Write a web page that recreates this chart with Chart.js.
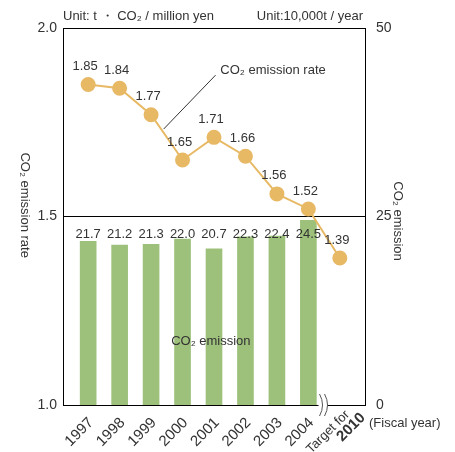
<!DOCTYPE html>
<html>
<head>
<meta charset="utf-8">
<script src="https://cdn.jsdelivr.net/npm/chart.js@4/dist/chart.umd.min.js"></script>
<style>
  html, body { margin: 0; padding: 0; background: #fff; }
  #wrap { width: 455px; height: 452px; }
</style>
</head>
<body>
<div id="wrap"><canvas id="myChart" width="455" height="452"></canvas></div>
<script>
const years = ['1997', '1998', '1999', '2000', '2001', '2002', '2003', '2004']
const targetLabel = ['Target for', '2010']
const emission = [21.7, 21.2, 21.3, 22.0, 20.7, 22.3, 22.4, 24.5]
const rate = [1.85, 1.84, 1.77, 1.65, 1.71, 1.66, 1.56, 1.52, 1.39]
const rateTicks = [1.0, 1.5, 2.0]
const emissionTicks = [0, 25, 50]

const textColor = '#333'
const font = '"Liberation Sans", Arial, sans-serif'

let extras = {
  id: 'extras',
  afterDatasetsDraw(chart) {
    let ctx = chart.ctx
    let x = chart.scales.x
    let y = chart.scales.y
    let y2 = chart.scales.y2
    let area = chart.chartArea
    ctx.save()
    ctx.fillStyle = textColor
    ctx.font = `13px ${font}`
    ctx.textAlign = 'center'
    ctx.textBaseline = 'middle'

    // rate labels above the points
    rate.forEach((v, i) => {
      ctx.fillText(v.toFixed(2), x.getPixelForValue(i) - 3, y.getPixelForValue(v) - 18)
    })
    // emission labels in one row
    emission.forEach((v, i) => {
      ctx.fillText(v.toFixed(1), x.getPixelForValue(i), y2.getPixelForValue(22.6))
    })

    ctx.fillText('CO₂ emission', x.getPixelForValue(3.9), y2.getPixelForValue(8.4))

    ctx.textAlign = 'left'
    ctx.fillText('CO₂ emission rate', x.getPixelForValue(4.2), y.getPixelForValue(1.887))
    ctx.strokeStyle = textColor
    ctx.lineWidth = 1
    ctx.beginPath()
    ctx.moveTo(x.getPixelForValue(4.05), y.getPixelForValue(1.875))
    ctx.lineTo(x.getPixelForValue(2.4), y.getPixelForValue(1.732))
    ctx.stroke()

    // units
    ctx.textBaseline = 'alphabetic'
    ctx.fillText('Unit: t ・ CO₂ / million yen', area.left, area.top - 8)
    ctx.textAlign = 'right'
    ctx.fillText('Unit:10,000t / year', area.right - 2, area.top - 8)
    ctx.textAlign = 'left'
    ctx.fillText('(Fiscal year)', area.right + 4, area.bottom + 22)

    // axis titles, both reading top to bottom
    ctx.textAlign = 'center'
    ctx.textBaseline = 'middle'
    ctx.save()
    ctx.translate(25, y.getPixelForValue(1.53))
    ctx.rotate(Math.PI / 2)
    ctx.fillText('CO₂ emission rate', 0, 0)
    ctx.restore()
    ctx.save()
    ctx.translate(398, y2.getPixelForValue(24.4))
    ctx.rotate(Math.PI / 2)
    ctx.fillText('CO₂ emission', 0, 0)
    ctx.restore()

    // target label
    let tx = x.getPixelForValue(8)
    ctx.save()
    ctx.translate(tx + 3, area.bottom + 3)
    ctx.rotate(-Math.PI / 4)
    ctx.textAlign = 'right'
    ctx.textBaseline = 'top'
    ctx.font = `13px ${font}`
    ctx.fillText(targetLabel[0], 0, 0)
    ctx.font = `bold 15px ${font}`
    ctx.fillText(targetLabel[1], 9, 12)
    ctx.restore()

    // axis break
    let bx = x.getPixelForValue(7.45)
    ctx.fillStyle = '#fff'
    ctx.fillRect(bx - 4, area.bottom - 2, 9, 4)
    ctx.strokeStyle = '#555'
    ctx.lineWidth = 1
    ;[bx - 3, bx + 2].forEach(cx => {
      ctx.beginPath()
      ctx.moveTo(cx, area.bottom - 11)
      ctx.quadraticCurveTo(cx + 6, area.bottom, cx, area.bottom + 11)
      ctx.stroke()
    })
    ctx.restore()
  }
}

let ctx = document.querySelector('#myChart').getContext('2d')
let myChart = new Chart(ctx, {
  type: 'bar',
  data: {
    datasets: [{
      type: 'line',
      data: rate.map((v, i) => ({x: i, y: v})),
      yAxisID: 'y',
      borderColor: '#e8b965',
      backgroundColor: '#e8b965',
      borderWidth: 2,
      pointRadius: 6.5,
      pointHoverRadius: 6.5,
      order: 0
    }, {
      type: 'bar',
      data: emission.map((v, i) => ({x: i, y: v})),
      yAxisID: 'y2',
      backgroundColor: '#9dc17b',
      barThickness: 16,
      order: 1
    }]
  },
  options: {
    responsive: false,
    animation: false,
    layout: {padding: {top: 28, left: 0, right: 0, bottom: 0}},
    plugins: {
      legend: {display: false},
      tooltip: {enabled: false}
    },
    scales: {
      x: {
        type: 'linear',
        offset: false,
        min: -0.8,
        max: 8.8,
        afterBuildTicks: axis => { axis.ticks = years.map((_, i) => ({value: i})) },
        afterFit: axis => { axis.height = 47 },
        grid: {display: false},
        border: {display: true, color: '#000'},
        ticks: {
          autoSkip: false,
          minRotation: 45,
          maxRotation: 45,
          padding: 1,
          labelOffset: 3,
          color: textColor,
          font: {family: font, size: 15},
          callback: v => years[v] || ''
        }
      },
      y: {
        position: 'left',
        min: 1,
        max: 2,
        afterBuildTicks: axis => { axis.ticks = rateTicks.map(v => ({value: v})) },
        afterFit: axis => { axis.width = 63 },
        grid: {color: '#000', drawTicks: false},
        border: {display: true, color: '#000'},
        ticks: {
          padding: 6,
          color: textColor,
          font: {family: font, size: 14},
          callback: v => v.toFixed(1)
        }
      },
      y2: {
        position: 'right',
        min: 0,
        max: 50,
        afterBuildTicks: axis => { axis.ticks = emissionTicks.map(v => ({value: v})) },
        afterFit: axis => { axis.width = 90 },
        grid: {display: false},
        border: {display: true, color: '#000'},
        ticks: {
          padding: 3,
          color: textColor,
          font: {family: font, size: 14}
        }
      }
    }
  },
  plugins: [extras]
})
</script>
</body>
</html>
